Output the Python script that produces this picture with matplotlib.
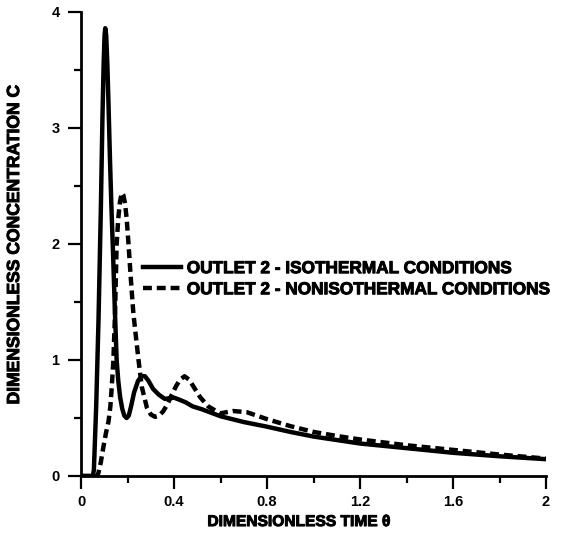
import matplotlib
matplotlib.use("Agg")
import matplotlib.pyplot as plt
import matplotlib.patheffects as pe
from matplotlib.ticker import MultipleLocator

# Isothermal (solid)
theta_iso = [0.0, 0.05, 0.055, 0.065, 0.075, 0.085, 0.092, 0.097, 0.101, 0.104, 0.108,
             0.113, 0.118, 0.124, 0.130, 0.137, 0.145, 0.153, 0.160, 0.168, 0.177,
             0.186, 0.196, 0.205, 0.215, 0.228, 0.245, 0.26, 0.275, 0.29, 0.31,
             0.335, 0.36, 0.38, 0.40, 0.42, 0.45, 0.48, 0.52, 0.56, 0.6, 0.7,
             0.8, 0.9, 1.0, 1.1, 1.2, 1.4, 1.6, 1.8, 2.0]
c_iso = [0.0, 0.0, 0.05, 0.6, 1.35, 2.3, 3.1, 3.55, 3.8, 3.86, 3.8,
         3.55, 3.2, 2.75, 2.35, 1.95, 1.45, 1.0, 0.82, 0.68, 0.58,
         0.52, 0.50, 0.52, 0.60, 0.72, 0.82, 0.86, 0.86, 0.82, 0.75,
         0.70, 0.665, 0.67, 0.675, 0.66, 0.635, 0.60, 0.575, 0.545, 0.515, 0.465,
         0.425, 0.38, 0.34, 0.31, 0.28, 0.24, 0.20, 0.17, 0.145]

# Nonisothermal (dashed)
theta_non = [0.0, 0.07, 0.075, 0.085, 0.096, 0.107, 0.118, 0.126, 0.132, 0.139, 0.146,
             0.153, 0.160, 0.167, 0.175, 0.182, 0.189, 0.196, 0.204, 0.214, 0.225,
             0.236, 0.247, 0.261, 0.283, 0.30, 0.318, 0.336, 0.354, 0.372, 0.39,
             0.41, 0.426, 0.445, 0.465, 0.49, 0.512, 0.547, 0.598, 0.654, 0.713,
             0.8, 0.9, 1.0, 1.1, 1.2, 1.4, 1.6, 1.8, 2.0]
c_non = [0.0, 0.0, 0.03, 0.12, 0.25, 0.37, 0.47, 0.6, 0.77, 1.0, 1.4,
         2.0, 2.22, 2.36, 2.44, 2.42, 2.35, 2.22, 2.0, 1.7, 1.4,
         1.2, 1.0, 0.77, 0.59, 0.53, 0.51, 0.52, 0.56, 0.62, 0.70,
         0.78, 0.83, 0.86, 0.83, 0.75, 0.68, 0.60, 0.54, 0.56, 0.55,
         0.49, 0.43, 0.38, 0.345, 0.315, 0.265, 0.225, 0.185, 0.15]

x_ticks = [0, 0.4, 0.8, 1.2, 1.6, 2]
x_ticklabels = ["0", "0.4", "0.8", "1.2", "1.6", "2"]
y_ticks = [0, 1, 2, 3, 4]
y_ticklabels = ["0", "1", "2", "3", "4"]

plt.rcParams['font.family'] = ['Liberation Sans', 'DejaVu Sans']

fig = plt.figure(figsize=(5.67, 5.37), dpi=100)
ax = fig.add_axes([0.143, 0.1136, 0.820, 0.8641])

ax.plot(theta_iso, c_iso, color='black', lw=3.2, solid_joinstyle='round',
        label='OUTLET 2 - ISOTHERMAL CONDITIONS')
ax.plot(theta_non, c_non, color='black', lw=3.2, linestyle=(0, (2.0, 1.1)),
        label='OUTLET 2 - NONISOTHERMAL CONDITIONS')

ax.set_xlim(0, 2)
ax.set_ylim(0, 4)
ax.set_xticks(x_ticks)
ax.set_xticklabels(x_ticklabels)
ax.set_yticks(y_ticks)
ax.set_yticklabels(y_ticklabels)
ax.xaxis.set_minor_locator(MultipleLocator(0.2))
ax.yaxis.set_minor_locator(MultipleLocator(0.5))

for s in ['top', 'right']:
    ax.spines[s].set_visible(False)
for s in ['left', 'bottom']:
    ax.spines[s].set_linewidth(2.0)

ax.tick_params(which='major', direction='out', length=9.5, width=1.6, labelsize=10.5, pad=4)
ax.tick_params(which='minor', direction='out', length=5, width=1.6)
ax.tick_params(axis='y', which='major', pad=6)

stroke = [pe.withStroke(linewidth=0.7, foreground='black')]
for lab in ax.get_xticklabels() + ax.get_yticklabels():
    lab.set_fontweight('bold')

xl = ax.set_xlabel('DIMENSIONLESS TIME θ', fontsize=11.2, fontweight='bold')
ax.xaxis.set_label_coords(0.467, -0.082)
yl = ax.set_ylabel('DIMENSIONLESS CONCENTRATION C', fontsize=12.6, fontweight='bold')
ax.yaxis.set_label_coords(-0.127, 0.498)
xl.set_path_effects(stroke)
yl.set_path_effects(stroke)

leg = ax.legend(loc='upper left', bbox_to_anchor=(0.118, 0.478), frameon=False,
                prop={'size': 12.4, 'weight': 'bold'}, handlelength=2.2,
                handletextpad=0.35, labelspacing=0.35, borderaxespad=0)
for t in leg.get_texts():
    t.set_path_effects(stroke)

fig.savefig('out.png', dpi=100)
